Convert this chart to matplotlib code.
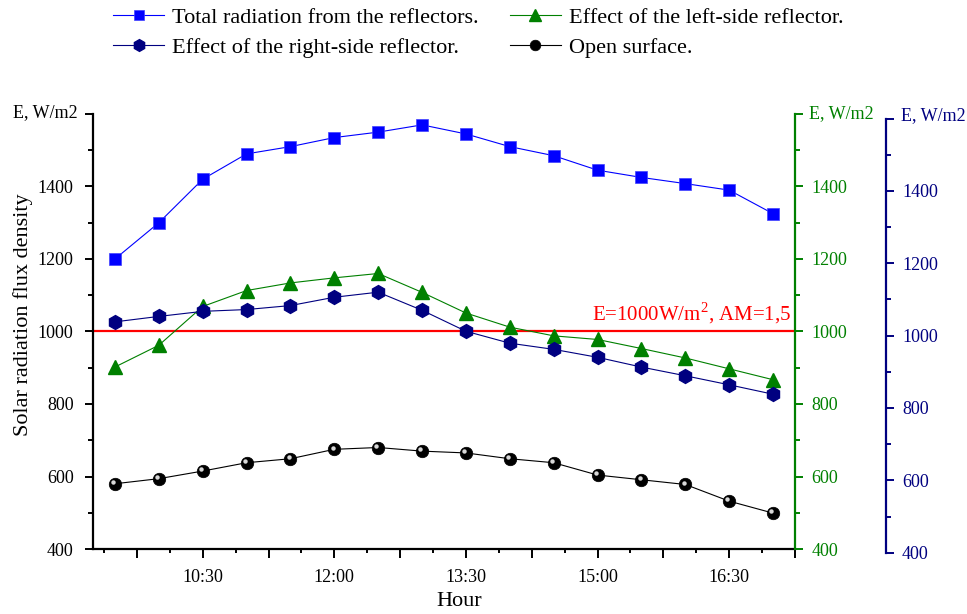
import matplotlib
matplotlib.use("Agg")
import matplotlib.pyplot as plt
from matplotlib.ticker import MultipleLocator, FixedLocator, FuncFormatter
from matplotlib import transforms

plt.rcParams['font.family'] = ['Liberation Serif', 'DejaVu Serif']
plt.rcParams['mathtext.fontset'] = 'custom'
plt.rcParams['mathtext.rm'] = 'Liberation Serif'

# ---- data ----
times = ["9:30", "10:00", "10:30", "11:00", "11:30", "12:00", "12:30", "13:00",
         "13:30", "14:00", "14:30", "15:00", "15:30", "16:00", "16:30", "17:00"]
total_reflectors = [1200, 1300, 1420, 1490, 1510, 1535, 1550, 1570,
                    1545, 1510, 1485, 1445, 1425, 1408, 1390, 1325]
left_reflector = [902, 962, 1069, 1113, 1134, 1148, 1160, 1108,
                  1051, 1012, 988, 978, 953, 927, 897, 867]
right_reflector = [1038, 1053, 1067, 1072, 1083, 1106, 1120, 1070,
                   1012, 979, 962, 940, 913, 889, 864, 838]
open_surface = [580, 594, 615, 638, 649, 675, 680, 670,
                665, 649, 638, 604, 591, 578, 532, 499]
reference_level = 1000
x_tick_labels = ["10:30", "12:00", "13:30", "15:00", "16:30"]

def to_hours(s):
    h, m = s.split(":")
    return int(h) + int(m) / 60.0

x = [to_hours(t) for t in times]

BLUE = '#0000FF'
GREEN = '#008000'
NAVY = '#000080'
RED = '#FF0000'

W, H = 967, 614
fig = plt.figure(figsize=(W / 100, H / 100), dpi=100)

L, R, T, B = 93, 795, 114, 549
ax = fig.add_axes([L / W, 1 - B / H, (R - L) / W, (B - T) / H])
ax_g = ax.twinx()
# navy axis, slightly shifted downward
nT, nB = 118.5, 552.7
ax_n = fig.add_axes([L / W, 1 - nB / H, (R - L) / W, (nB - nT) / H], sharex=ax)
ax_n.patch.set_visible(False)
ax_n.yaxis.tick_right()

for a in (ax, ax_g, ax_n):
    a.set_ylim(400, 1600)
ax.set_xlim(9.25, 17.25)

# spines
for s in ['top', 'right']:
    ax.spines[s].set_visible(False)
ax.spines['left'].set_linewidth(1.6)
ax.spines['bottom'].set_linewidth(1.6)
for s in ['top', 'left', 'bottom']:
    ax_g.spines[s].set_visible(False)
    ax_n.spines[s].set_visible(False)
ax_g.spines['right'].set_color(GREEN)
ax_g.spines['right'].set_linewidth(1.6)
ax_n.spines['right'].set_color(NAVY)
ax_n.spines['right'].set_linewidth(1.6)
ax_n.spines['right'].set_position(('axes', 1 + 91 / (R - L)))
ax_n.tick_params(axis='x', which='both', bottom=False, labelbottom=False)

# y ticks
yfmt = FuncFormatter(lambda v, p: '' if v > 1500 else f"{int(v)}")
for a, col, pad in ((ax, 'black', 8), (ax_g, GREEN, 6), (ax_n, NAVY, 5.5)):
    a.yaxis.set_major_locator(MultipleLocator(200))
    a.yaxis.set_minor_locator(MultipleLocator(100))
    a.yaxis.set_major_formatter(yfmt)
    a.tick_params(axis='y', which='major', direction='out', length=6, width=1.4,
                  colors=col, labelsize=13, pad=pad)
    a.tick_params(axis='y', which='minor', direction='out', length=3.5, width=1.4,
                  colors=col)

# x ticks
major_x = [9.75 + 0.75 * i for i in range(11)]
ax.xaxis.set_major_locator(FixedLocator(major_x))
ax.xaxis.set_minor_locator(FixedLocator([9.375 + 0.75 * i for i in range(11)]))
lab_hours = [to_hours(t) for t in x_tick_labels]
def xfmt(v, p):
    for hv, lab in zip(lab_hours, x_tick_labels):
        if abs(v - hv) < 1e-6:
            return lab
    return ''
ax.xaxis.set_major_formatter(FuncFormatter(xfmt))
ax.tick_params(axis='x', which='major', direction='out', length=6.5, width=1.4,
               labelsize=13, pad=8)
ax.tick_params(axis='x', which='minor', direction='out', length=3, width=1.4)

# series
l_tot, = ax.plot(x, total_reflectors, color=BLUE, lw=0.8, marker='s', ms=8,
                 mec='#4040ff', mew=0.5, label='Total radiation from the reflectors.', zorder=3)
ax.axhline(reference_level, color=RED, lw=1.6, zorder=2)
l_open, = ax.plot(x, open_surface, color='black', lw=0.8, marker='o', ms=9,
                  mec='black', mew=0.5, label='Open surface.', zorder=3)
hl = transforms.offset_copy(ax.transData, fig=fig, x=-1.3, y=1.3, units='points')
ax.plot(x, open_surface, ls='none', marker='o', ms=3.2, mfc='#d8d8d8', mec='none',
        transform=hl, zorder=4)
l_left, = ax_g.plot(x, left_reflector, color=GREEN, lw=0.8, marker='^', ms=10.5,
                    mec=GREEN, label='Effect of the left-side reflector.', zorder=3)
l_right, = ax_n.plot(x, right_reflector, color=NAVY, lw=0.8, marker='h', ms=10,
                     mec=NAVY, label='Effect of the right-side reflector.', zorder=3)

ax.text(0.995, (reference_level - 400) / 1200 + 0.012, r'E=1000W/m$^2$, AM=1,5',
        transform=ax.transAxes, ha='right', va='bottom', color=RED, fontsize=15)

# axis titles
ax.set_ylabel('Solar radiation flux density', fontsize=16)
ax.yaxis.set_label_coords(-0.100, 0.538)
ax.yaxis.label.set_va('center')
ax.set_xlabel('Hour', fontsize=16)
ax.xaxis.set_label_coords((459 - L) / (R - L), -0.098)

ax.text(-0.022, 1.004, 'E, W/m2', transform=ax.transAxes, ha='right', va='center',
        fontsize=13)
ax.text((809 - L) / (R - L), 1.002, 'E, W/m2', transform=ax.transAxes, ha='left',
        va='center', fontsize=13, color=GREEN)
fig.text(901 / W, 1 - 116 / H, 'E, W/m2', ha='left', va='center', fontsize=13,
         color=NAVY)

# legend: matplotlib fills column-wise
fig.legend(handles=[l_tot, l_right, l_left, l_open], ncol=2, frameon=False,
           loc='upper left', bbox_to_anchor=(113 / W, 1 - 7 / H), borderaxespad=0,
           borderpad=0, fontsize=16, handlelength=2.3, handletextpad=0.35,
           columnspacing=1.4, labelspacing=0.45, markerscale=0.85)

fig.savefig('out.png', dpi=100)
